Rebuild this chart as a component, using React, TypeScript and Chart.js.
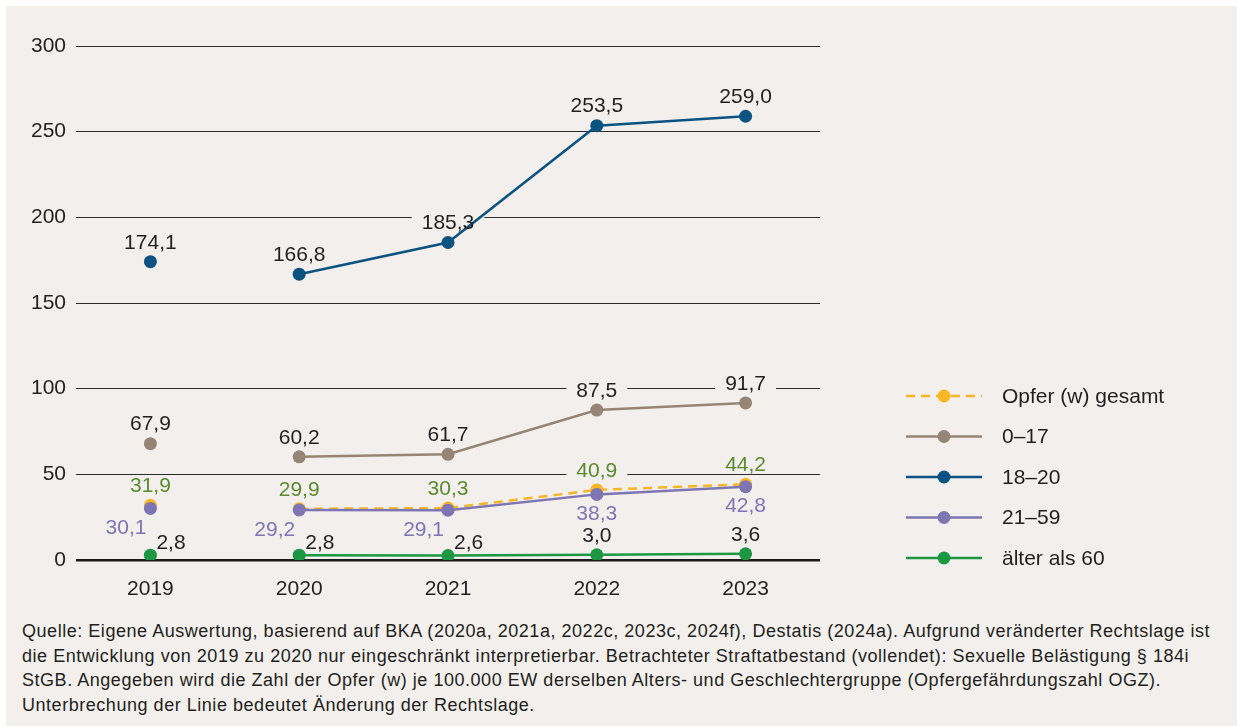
import React, { useEffect, useRef } from "react";
import { Chart, registerables } from "chart.js";

Chart.register(...registerables);

const categories = ["2019", "2020", "2021", "2022", "2023"];
const seriesNames = ["Opfer (w) gesamt", "0–17", "18–20", "21–59", "älter als 60"];
const gesamtValues = [31.9, 29.9, 30.3, 40.9, 44.2];
const age0to17Values = [67.9, 60.2, 61.7, 87.5, 91.7];
const age18to20Values = [174.1, 166.8, 185.3, 253.5, 259.0];
const age21to59Values = [30.1, 29.2, 29.1, 38.3, 42.8];
const age60plusValues = [2.8, 2.8, 2.6, 3.0, 3.6];
const yMin = 0;
const yMax = 300;
const yStep = 50;

const footnoteLines = [
  "Quelle: Eigene Auswertung, basierend auf BKA (2020a, 2021a, 2022c, 2023c, 2024f), Destatis (2024a). Aufgrund veränderter Rechtslage ist",
  "die Entwicklung von 2019 zu 2020 nur eingeschränkt interpretierbar. Betrachteter Straftatbestand (vollendet): Sexuelle Belästigung § 184i",
  "StGB. Angegeben wird die Zahl der Opfer (w) je 100.000 EW derselben Alters- und Geschlechtergruppe (Opfergefährdungszahl OGZ).",
  "Unterbrechung der Linie bedeutet Änderung der Rechtslage.",
];

const BG = "#f2efec";
const FONT = "'Liberation Sans', Arial, sans-serif";
const TEXT = "#231f20";
const FS = 21;

const fmt = (v: number) => v.toFixed(1).replace(".", ",");

// label placement relative to the point: [dx, dy, align]
type Spot = [number, number, CanvasTextAlign];
const above: Spot = [0, -20, "center"];
const belowLeft: Spot = [-4, 19, "right"];
const below: Spot = [0, 19, "center"];
const upRight: Spot = [6, -13, "left"];

function eachLabel(chart: any, fn: (ctx: any, text: string, x: number, y: number, w: number, left: number, ds: any, align: CanvasTextAlign) => void) {
  const ctx = chart.ctx;
  ctx.save();
  ctx.font = `${FS}px ${FONT}`;
  ctx.textBaseline = "middle";
  chart.data.datasets.forEach((ds: any, i: number) => {
    const meta = chart.getDatasetMeta(i);
    meta.data.forEach((pt: any, j: number) => {
      const spot: Spot = ds.labelSpots[j];
      const text = fmt(ds.data[j]);
      const x = pt.x + spot[0];
      const y = pt.y + spot[1];
      const w = ctx.measureText(text).width;
      let left = x - w / 2;
      if (spot[2] === "left") left = x;
      if (spot[2] === "right") left = x - w;
      fn(ctx, text, x, y, w, left, ds, spot[2]);
    });
  });
  ctx.restore();
}

const labelPlugin = {
  id: "valueLabels",
  beforeDatasetsDraw(chart: any) {
    eachLabel(chart, (ctx, _t, _x, y, w, left) => {
      ctx.fillStyle = BG;
      ctx.fillRect(left - 10, y - 8, w + 20, 16);
    });
  },
  afterDatasetsDraw(chart: any) {
    eachLabel(chart, (ctx, text, x, y, _w, _l, ds, align) => {
      ctx.fillStyle = ds.labelColor;
      ctx.textAlign = align;
      ctx.fillText(text, x, y + 1);
    });
  },
};

const legendPlugin = {
  id: "sideLegend",
  afterDraw(chart: any) {
    const ctx = chart.ctx;
    const x0 = chart.chartArea.right + 86;
    const y0 = 390;
    const gap = 40.5;
    ctx.save();
    chart.data.datasets.forEach((ds: any, i: number) => {
      const y = y0 + i * gap;
      ctx.strokeStyle = ds.borderColor;
      ctx.lineWidth = 2.5;
      ctx.setLineDash(ds.borderDash || []);
      ctx.beginPath();
      ctx.moveTo(x0, y);
      ctx.lineTo(x0 + 76, y);
      ctx.stroke();
      ctx.setLineDash([]);
      ctx.fillStyle = ds.pointBackgroundColor;
      ctx.beginPath();
      ctx.arc(x0 + 38, y, 6.5, 0, Math.PI * 2);
      ctx.fill();
      ctx.fillStyle = TEXT;
      ctx.font = `${FS}px ${FONT}`;
      ctx.textAlign = "left";
      ctx.textBaseline = "middle";
      ctx.fillText(ds.label, x0 + 96, y + 1);
    });
    ctx.restore();
  },
};

function makeDataset(
  label: string,
  data: number[],
  color: string,
  order: number,
  labelColor: string,
  labelSpots: Spot[],
  dash?: number[]
) {
  return {
    label,
    data,
    borderColor: color,
    backgroundColor: color,
    pointBackgroundColor: color,
    pointBorderColor: color,
    pointBorderWidth: 0,
    pointRadius: 6.5,
    pointHoverRadius: 6.5,
    borderWidth: 2.5,
    borderDash: dash,
    tension: 0,
    order,
    labelColor,
    labelSpots,
    segment: {
      borderColor: (c: any) => (c.p0DataIndex === 0 ? "rgba(0,0,0,0)" : color),
    },
  };
}

export default function App() {
  const ref = useRef<HTMLCanvasElement>(null);
  const noteRef = useRef<HTMLDivElement>(null);

  useEffect(() => {
    document.body.style.margin = "0";
    const note = noteRef.current;
    if (note) {
      const mc = document.createElement("canvas").getContext("2d");
      if (mc) {
        mc.font = `18px ${FONT}`;
        const first = footnoteLines[0];
        const w = mc.measureText(first).width;
        const ls = (1191 - w) / first.length;
        note.style.letterSpacing = `${ls.toFixed(3)}px`;
      }
    }
    const canvas = ref.current;
    if (!canvas) return;
    const chart = new Chart(canvas, {
      type: "line",
      data: {
        labels: categories,
        datasets: [
          makeDataset(seriesNames[0], gesamtValues, "#f7b528", 2, "#5a8a2e", [above, above, above, above, above], [9, 6]),
          makeDataset(seriesNames[1], age0to17Values, "#968575", 3, TEXT, [above, above, above, above, above]),
          makeDataset(seriesNames[2], age18to20Values, "#0d5382", 4, TEXT, [above, above, above, above, above]),
          makeDataset(seriesNames[3], age21to59Values, "#7d76b3", 1, "#7d76b3", [belowLeft, belowLeft, belowLeft, below, below]),
          makeDataset(seriesNames[4], age60plusValues, "#1d9742", 0, TEXT, [upRight, upRight, upRight, above, above]),
        ] as any,
      },
      options: {
        animation: false,
        responsive: false,
        maintainAspectRatio: false,
        events: [],
        layout: { padding: { top: 40, right: 417, left: 0, bottom: 0 } },
        plugins: {
          legend: { display: false },
          tooltip: { enabled: false },
        },
        scales: {
          x: {
            offset: true,
            grid: { display: false, drawTicks: false },
            border: { display: false },
            ticks: {
              color: TEXT,
              font: { family: FONT, size: FS },
              padding: 17,
              maxRotation: 0,
            },
            afterFit: (s: any) => {
              s.height = 51;
            },
          },
          y: {
            min: yMin,
            max: yMax,
            grid: {
              drawTicks: false,
              color: (c: any) => (c.tick && c.tick.value === 0 ? "#1a1a1a" : "#2b2b2b"),
              lineWidth: (c: any) => (c.tick && c.tick.value === 0 ? 2.5 : 1),
            },
            border: { display: false },
            ticks: {
              stepSize: yStep,
              color: TEXT,
              font: { family: FONT, size: FS },
              padding: 10,
              callback: (v: any) => String(v),
            },
            afterFit: (s: any) => {
              s.width = 70;
            },
          },
        },
      },
      plugins: [labelPlugin, legendPlugin],
    });
    return () => chart.destroy();
  }, []);

  return (
    <div
      style={{
        position: "absolute",
        left: 6,
        top: 6,
        width: 1231,
        height: 720,
        background: BG,
      }}
    >
      <canvas ref={ref} width={1231} height={605} style={{ display: "block", width: 1231, height: 605 }} />
      <div
        ref={noteRef}
        style={{
          marginTop: 8,
          paddingLeft: 16,
          fontFamily: FONT,
          fontSize: 18,
          lineHeight: "24.5px",
          color: TEXT,
        }}
      >
        {footnoteLines.map((l, i) => (
          <div key={i} style={{ whiteSpace: "nowrap" }}>
            {l}
          </div>
        ))}
      </div>
    </div>
  );
}
